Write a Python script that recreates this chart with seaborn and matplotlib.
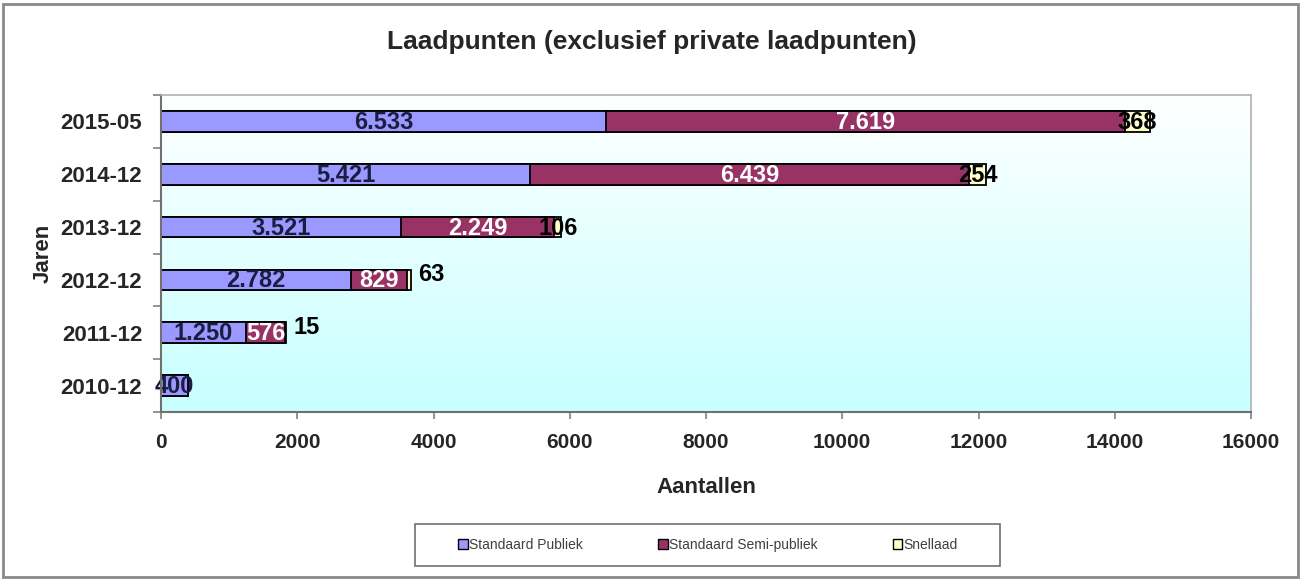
import numpy as np
import pandas as pd
import matplotlib
matplotlib.use("Agg")
import matplotlib.pyplot as plt
import seaborn as sns
from matplotlib.patches import Patch, Rectangle

# ---- data ----
years = ['2015-05', '2014-12', '2013-12', '2012-12', '2011-12', '2010-12']
publiek = [6533, 5421, 3521, 2782, 1250, 400]
semi_publiek = [7619, 6439, 2249, 829, 576, 0]
snellaad = [368, 254, 106, 63, 15, 0]
series_names = ['Standaard Publiek', 'Standaard Semi-publiek', 'Snellaad']
x_ticks = [0, 2000, 4000, 6000, 8000, 10000, 12000, 14000, 16000]

colors = ['#9999FF', '#993366', '#FFFFCC']

sns.set_theme(style="white")
plt.rcParams['font.family'] = ['Liberation Sans', 'DejaVu Sans']

fig = plt.figure(figsize=(13.04, 5.8), dpi=100)
ax = fig.add_axes([161/1304, 1-412/580, (1251-161)/1304, (412-95)/580])

df = pd.DataFrame({
    'year': years,
    'p': publiek,
    'ps': np.add(publiek, semi_publiek),
    'pss': np.add(np.add(publiek, semi_publiek), snellaad),
})

# gradient background
grad = np.linspace(0, 1, 256)[:, None]
top = np.array([1.0, 1.0, 1.0])
bot = np.array([0.78, 1.0, 1.0])
img = (top[None, None, :] * (1 - grad[..., None]) + bot[None, None, :] * grad[..., None])
ax.imshow(img, extent=[0, 1, 0, 1], transform=ax.transAxes, aspect='auto', zorder=0)

bw = 0.39
sns.barplot(data=df, y='year', x='pss', order=years, color=colors[2], orient='h',
            width=bw, edgecolor='black', linewidth=1.3, saturation=1, ax=ax, zorder=2)
sns.barplot(data=df, y='year', x='ps', order=years, color=colors[1], orient='h',
            width=bw, edgecolor='black', linewidth=1.3, saturation=1, ax=ax, zorder=3)
sns.barplot(data=df, y='year', x='p', order=years, color=colors[0], orient='h',
            width=bw, edgecolor='black', linewidth=1.3, saturation=1, ax=ax, zorder=4)

def fmt(v):
    return f"{v:,}".replace(",", ".")

lab_fs = 17
for i, y in enumerate(years):
    p, s, f = publiek[i], semi_publiek[i], snellaad[i]
    if p > 0:
        ax.text(p / 2, i + 0.02, fmt(p), ha='center', va='center', fontsize=lab_fs,
                fontweight='bold', color='#1c1c40', zorder=6)
    if s > 0:
        ax.text(p + s / 2, i + 0.02, fmt(s), ha='center', va='center', fontsize=lab_fs,
                fontweight='bold', color='white', zorder=6)
    if f > 0:
        if f >= 100:
            ax.text(p + s + f / 2, i + 0.02, fmt(f), ha='center', va='center', fontsize=lab_fs,
                    fontweight='bold', color='black', zorder=6)
        else:
            ax.text(p + s + f + 100, i - 0.1, fmt(f), ha='left', va='center', fontsize=lab_fs,
                    fontweight='bold', color='black', zorder=6)

ax.set_xlim(0, 16000)
ax.set_ylim(5.5, -0.5)
ax.set_xticks(x_ticks)
ax.set_xticklabels([str(t) for t in x_ticks], fontsize=15, fontweight='bold')
ax.set_yticks(range(len(years)))
ax.set_yticklabels(years, fontsize=16, fontweight='bold')
ax.set_yticks(np.arange(-0.5, len(years), 1.0), minor=True)
ax.tick_params(axis='y', which='major', length=0, pad=13.5)
ax.tick_params(axis='y', which='minor', length=6, width=1.2, color='#808080', direction='out', left=True)
ax.tick_params(axis='x', which='major', length=5, width=1.2, color='#808080', direction='out', bottom=True, pad=10)

ax.set_xlabel('Aantallen', fontsize=16, fontweight='bold', labelpad=18)
ax.set_ylabel('Jaren', fontsize=16, fontweight='bold', labelpad=5)
fig.text(652/1304, 1-42/580, 'Laadpunten (exclusief private laadpunten)', ha='center', va='center',
         fontsize=19, fontweight='bold')

for side in ['left', 'bottom']:
    ax.spines[side].set_color('#707070')
    ax.spines[side].set_linewidth(1.5)
for side in ['top', 'right']:
    ax.spines[side].set_color('#b0b0b0')
    ax.spines[side].set_linewidth(1.2)
for sp in ax.spines.values():
    sp.set_zorder(7)

# legend frame + legend
fig.patches.append(Rectangle((415/1304, 1-566/580), 585/1304, 42/580, transform=fig.transFigure,
                             fill=True, facecolor='white', edgecolor='#707070', linewidth=1.2))
handles = [Patch(facecolor=c, edgecolor='black', linewidth=1.0, label=n)
           for c, n in zip(colors, series_names)]
leg = fig.legend(handles=handles, loc='center', ncol=3,
                 bbox_to_anchor=(708/1304, 1-545/580),
                 fontsize=10, frameon=False, handlelength=0.7,
                 handleheight=0.7, handletextpad=0.1, borderpad=0,
                 borderaxespad=0, columnspacing=5.4)
for t in leg.get_texts():
    t.set_color('#404040')

fig.patches.append(Rectangle((3/1304, 3/580), 1295/1304, 573/580, transform=fig.transFigure,
                             fill=False, edgecolor='#8a8a8a', linewidth=2.0))

fig.savefig('out.png', dpi=100)
